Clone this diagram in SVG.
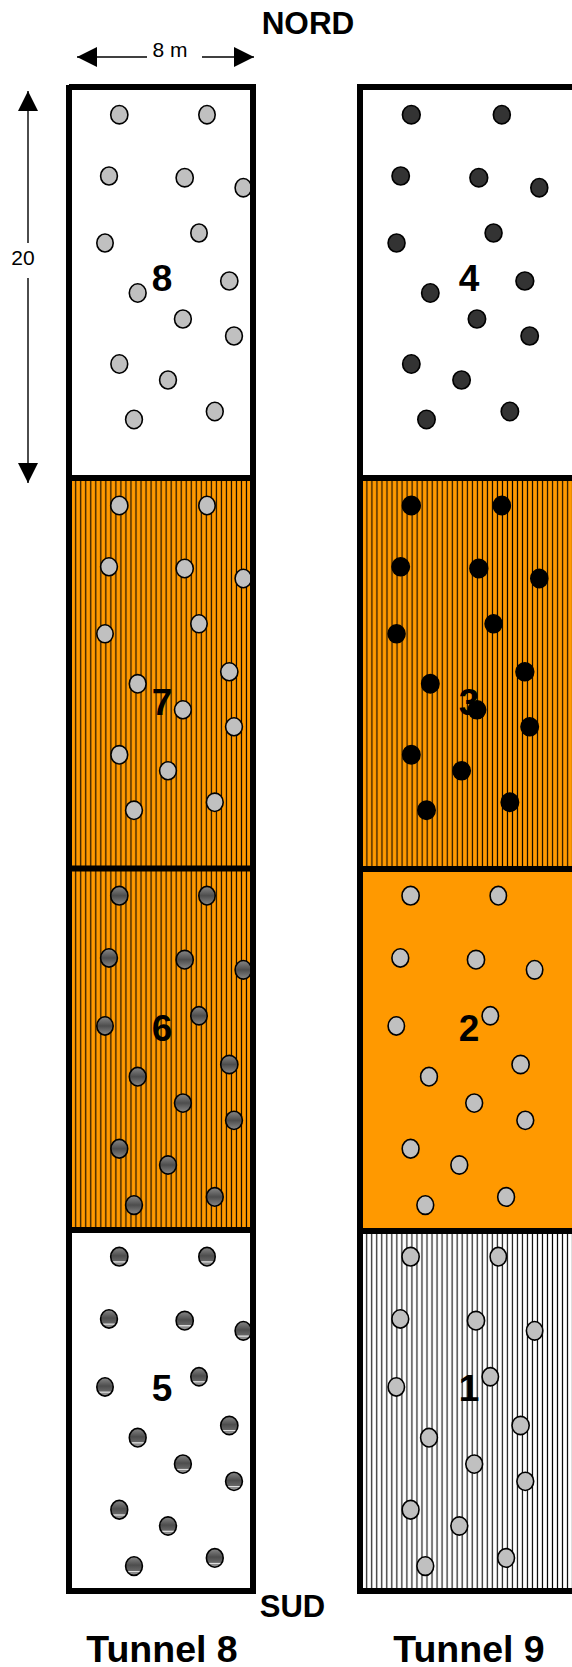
<svg xmlns="http://www.w3.org/2000/svg" width="572" height="1667" viewBox="0 0 572 1667">
<style>
text{font-family:"Liberation Sans",Arial,sans-serif;fill:#000}
.b{font-weight:700}
.wall{stroke:#000;stroke-width:6;fill:none}
.light{fill:#c0c0c0;stroke:#000;stroke-width:1.6}
.dark{fill:#333;stroke:#000;stroke-width:1.6}
.black{fill:#000;stroke:#000;stroke-width:1.6}
.grad{fill:url(#g);stroke:#000;stroke-width:1.6}
.grad2{fill:url(#g2);stroke:#000;stroke-width:1.6}
</style>
<defs>
<linearGradient id="g" x1="0" y1="0" x2="0" y2="1"><stop offset="0" stop-color="#888"/><stop offset=".5" stop-color="#4d4d4d"/><stop offset="1" stop-color="#888"/></linearGradient>
<linearGradient id="g2" x1="0" y1="0" x2="0" y2="1"><stop offset="0" stop-color="#888"/><stop offset=".45" stop-color="#4d4d4d"/><stop offset=".74" stop-color="#666"/><stop offset=".76" stop-color="#ddd"/><stop offset=".8" stop-color="#ddd"/><stop offset=".82" stop-color="#888"/><stop offset="1" stop-color="#999"/></linearGradient>
<pattern id="po" width="5.02" height="20" patternUnits="userSpaceOnUse" x="72"><rect width="5.02" height="20" fill="#f90"/><rect x="3.2" width="1.1" height="20" fill="#000"/></pattern>
<pattern id="pw" width="5.02" height="20" patternUnits="userSpaceOnUse" x="363"><rect width="5.02" height="20" fill="#fff"/><rect x="3.2" width="1.1" height="20" fill="#000"/></pattern>
<marker id="ah" viewBox="0 0 20 20" refX="20" refY="10" markerUnits="userSpaceOnUse" markerWidth="20" markerHeight="20" orient="auto-start-reverse"><path d="M0 0L20 10L0 20Z" fill="#000"/></marker>
<g id="dots">
<ellipse cx="119.3" cy="114.7" rx="8.6" ry="9.2"/><ellipse cx="207" cy="114.7" rx="8.2" ry="9.2"/>
<ellipse cx="109" cy="176" rx="8.4" ry="9"/><ellipse cx="184.7" cy="177.7" rx="8.6" ry="9.2"/>
<ellipse cx="243.3" cy="187.7" rx="8.2" ry="9.2"/><ellipse cx="105" cy="243" rx="8.2" ry="9"/>
<ellipse cx="199" cy="233" rx="8.2" ry="9"/><ellipse cx="229.3" cy="281" rx="8.6" ry="9"/>
<ellipse cx="137.7" cy="293" rx="8.4" ry="9.2"/><ellipse cx="182.9" cy="319" rx="8.4" ry="9"/>
<ellipse cx="234" cy="336" rx="8.4" ry="9"/><ellipse cx="119.3" cy="364" rx="8.4" ry="9.2"/>
<ellipse cx="168" cy="380" rx="8.4" ry="9"/><ellipse cx="134" cy="419.5" rx="8.4" ry="9.2"/>
<ellipse cx="214.8" cy="411.5" rx="8.4" ry="9.2"/>
</g>
</defs>
<rect width="572" height="1667" fill="#fff"/>
<g id="fills">
<rect x="72" y="478" width="178" height="752" fill="url(#po)"/>
<rect x="363" y="478" width="209" height="391" fill="url(#po)"/>
<rect x="363" y="869" width="209" height="362" fill="#f90"/>
<rect x="363" y="1231" width="209" height="360" fill="url(#pw)"/>
</g>
<g id="zone-8" class="light"><use href="#dots"/></g>
<g id="zone-7" class="light"><use href="#dots" transform="translate(0 390.8)"/></g>
<g id="zone-6" class="grad"><use href="#dots" transform="translate(0 779.3) scale(1 1.015)"/></g>
<g id="zone-5" class="grad2"><use href="#dots" transform="translate(0 1140.3) scale(1 1.015)"/></g>
<g id="zone-4" class="dark"><use href="#dots" transform="translate(288.2 0) scale(1.032 1)"/></g>
<g id="zone-3" class="black"><use href="#dots" transform="translate(288.2 390.8) scale(1.032 1)"/></g>
<g id="zone-2" class="light"><use href="#dots" transform="translate(291.3 779.3) scale(1 1.015)"/></g>
<g id="zone-1" class="light"><use href="#dots" transform="translate(291.3 1140.3) scale(1 1.015)"/></g>
<g id="tunnel-8">
<path class="wall" d="M69 85V1594M253 85V1594M69 87H256M69 478H253M69 868.500H253M69 1230H253M69 1591H256"/>
</g>
<g id="tunnel-9">
<path class="wall" d="M360 85V1594M357 87H572M360 478H572M360 869H572M360 1231H572M357 1591H572"/>
</g>
<g id="connectors" stroke="#000" stroke-width="1.4" fill="none">
<path d="M77 57H147" marker-start="url(#ah)"/>
<path d="M202 57H254" marker-end="url(#ah)"/>
<path d="M28 91V243" marker-start="url(#ah)"/>
<path d="M28 278V483" marker-end="url(#ah)"/>
</g>
<g id="labels">
<text x="308" y="34" class="b" font-size="31.500" text-anchor="middle">NORD</text>
<text x="170" y="57" font-size="21" text-anchor="middle">8 m</text>
<text x="23" y="265" font-size="21" text-anchor="middle">20</text>
<text x="162" y="291" class="b" font-size="37" text-anchor="middle">8</text>
<text x="162" y="715" class="b" font-size="37" text-anchor="middle">7</text>
<text x="162" y="1041" class="b" font-size="37" text-anchor="middle">6</text>
<text x="162" y="1401" class="b" font-size="37" text-anchor="middle">5</text>
<text x="469" y="291" class="b" font-size="37" text-anchor="middle">4</text>
<text x="469" y="715" class="b" font-size="37" text-anchor="middle">3</text>
<text x="469" y="1041" class="b" font-size="37" text-anchor="middle">2</text>
<text x="469" y="1401" class="b" font-size="37" text-anchor="middle">1</text>
<text x="292.500" y="1617" class="b" font-size="31" text-anchor="middle">SUD</text>
<text x="162" y="1662" class="b" font-size="37.500" text-anchor="middle">Tunnel 8</text>
<text x="469" y="1662" class="b" font-size="37.500" text-anchor="middle">Tunnel 9</text>
</g>
</svg>
